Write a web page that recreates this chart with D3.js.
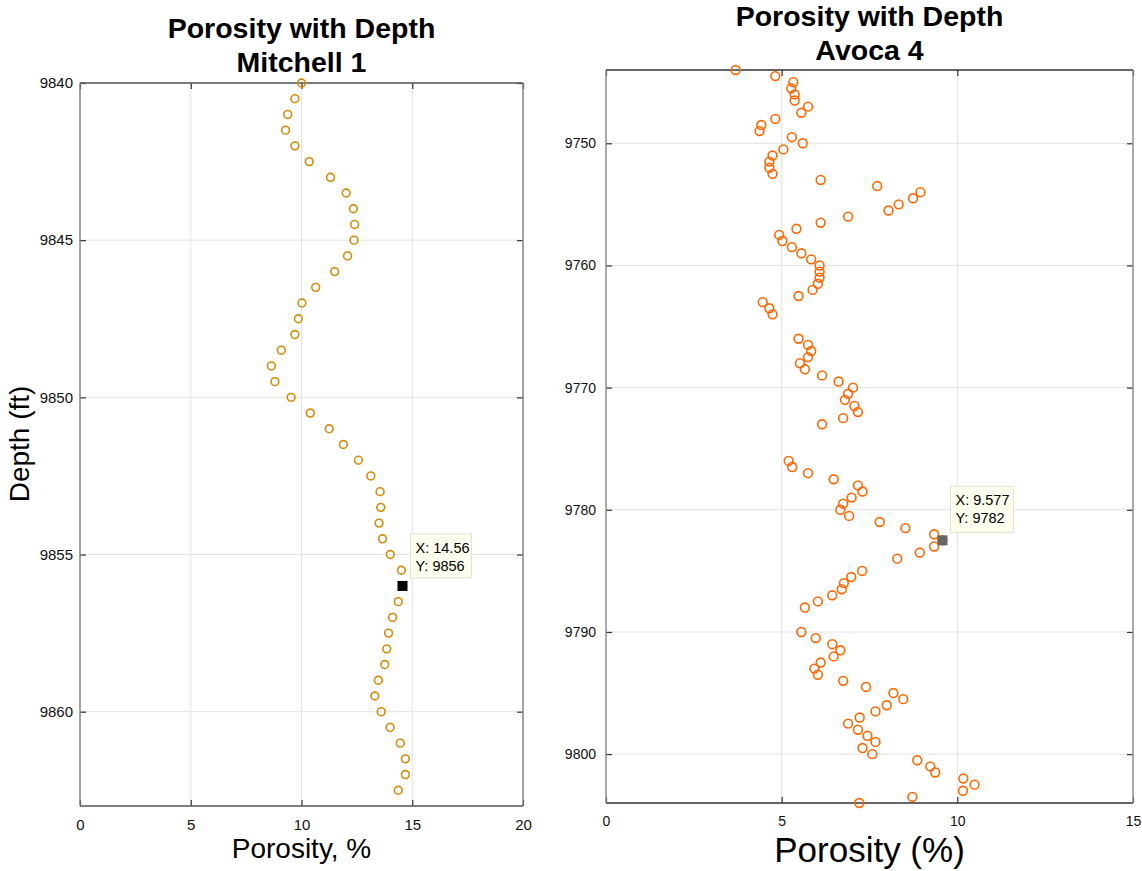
<!DOCTYPE html>
<html>
<head>
<meta charset="utf-8">
<script src="https://cdn.jsdelivr.net/npm/d3@7"></script>
<style>
  body { margin: 0; background: #fff; }
  text { font-family: "Liberation Sans", Arial, Helvetica, sans-serif; }
</style>
</head>
<body>
<div id="chart"></div>
<script>
// Mitchell 1 data
var mitchellDepth = [9840, 9840.5, 9841, 9841.5, 9842, 9842.5, 9843, 9843.5, 9844, 9844.5,
    9845, 9845.5, 9846, 9846.5, 9847, 9847.5, 9848, 9848.5, 9849, 9849.5,
    9850, 9850.5, 9851, 9851.5, 9852, 9852.5, 9853, 9853.5, 9854, 9854.5,
    9855, 9855.5, 9856, 9856.5, 9857, 9857.5, 9858, 9858.5, 9859, 9859.5,
    9860, 9860.5, 9861, 9861.5, 9862, 9862.5];
var mitchellPorosity = [10.0, 9.70, 9.38, 9.28, 9.70, 10.35, 11.31, 12.02, 12.34, 12.40,
    12.37, 12.08, 11.50, 10.64, 10.02, 9.86, 9.70, 9.09, 8.64, 8.80,
    9.53, 10.40, 11.25, 11.89, 12.57, 13.13, 13.55, 13.58, 13.50, 13.66,
    14.01, 14.51, 14.56, 14.37, 14.11, 13.93, 13.85, 13.76, 13.47, 13.31,
    13.60, 14.00, 14.46, 14.69, 14.69, 14.37];
var mitchellXTicks = [0, 5, 10, 15, 20];
var mitchellYTicks = [9840, 9845, 9850, 9855, 9860];

// Avoca 4 data
var avocaDepth = [9744, 9744.5, 9745, 9745.5, 9746, 9746.5, 9747, 9747.5, 9748, 9748.5,
    9749, 9749.5, 9750, 9750.5, 9751, 9751.5, 9752, 9752.5, 9753, 9753.5,
    9754, 9754.5, 9755, 9755.5, 9756, 9756.5, 9757, 9757.5, 9758, 9758.5,
    9759, 9759.5, 9760, 9760.5, 9761, 9761.5, 9762, 9762.5, 9763, 9763.5,
    9764, 9766, 9766.5, 9767, 9767.5, 9768, 9768.5, 9769, 9769.5, 9770,
    9770.5, 9771, 9771.5, 9772, 9772.5, 9773, 9776, 9776.5, 9777, 9777.5,
    9778, 9778.5, 9779, 9779.5, 9780, 9780.5, 9781, 9781.5, 9782, 9782.5,
    9783, 9783.5, 9784, 9785, 9785.5, 9786, 9786.5, 9787, 9787.5, 9788,
    9790, 9790.5, 9791, 9791.5, 9792, 9792.5, 9793, 9793.5, 9794, 9794.5,
    9795, 9795.5, 9796, 9796.5, 9797, 9797.5, 9798, 9798.5, 9799, 9799.5,
    9800, 9800.5, 9801, 9801.5, 9802, 9802.5, 9803, 9803.5, 9804];
var avocaPorosity = [3.69, 4.82, 5.33, 5.27, 5.37, 5.37, 5.75, 5.56, 4.82, 4.42,
    4.37, 5.29, 5.60, 5.05, 4.74, 4.65, 4.65, 4.74, 6.11, 7.72,
    8.95, 8.74, 8.33, 8.04, 6.89, 6.11, 5.42, 4.93, 5.02, 5.29,
    5.56, 5.84, 6.08, 6.08, 6.08, 6.03, 5.88, 5.48, 4.46, 4.65,
    4.74, 5.48, 5.75, 5.84, 5.75, 5.52, 5.66, 6.15, 6.62, 7.03,
    6.89, 6.80, 7.07, 7.17, 6.75, 6.15, 5.20, 5.30, 5.75, 6.48,
    7.17, 7.30, 6.99, 6.75, 6.67, 6.92, 7.79, 8.52, 9.34, 9.577,
    9.34, 8.93, 8.29, 7.29, 6.98, 6.77, 6.71, 6.44, 6.03, 5.66,
    5.56, 5.97, 6.44, 6.67, 6.48, 6.11, 5.93, 6.03, 6.75, 7.40,
    8.18, 8.46, 7.99, 7.67, 7.22, 6.89, 7.17, 7.44, 7.67, 7.30,
    7.58, 8.86, 9.23, 9.37, 10.17, 10.49, 10.16, 8.72, 7.21];
var avocaXTicks = [0, 5, 10, 15];
var avocaYTicks = [9750, 9760, 9770, 9780, 9790, 9800];

var svg = d3.select("#chart").append("svg")
    .attr("width", 1142)
    .attr("height", 871);

function drawPanel(p) {
    var x = d3.scaleLinear().domain(p.xDomain).range([p.left, p.right]);
    var y = d3.scaleLinear().domain(p.yDomain).range([p.top, p.bottom]);
    var g = svg.append("g");

    // grid
    g.selectAll(".vgrid").data(p.xTicks).enter().append("line")
        .attr("x1", function (d) { return x(d); })
        .attr("x2", function (d) { return x(d); })
        .attr("y1", p.top).attr("y2", p.bottom)
        .attr("stroke", "#e3e3e3").attr("stroke-width", 1);
    g.selectAll(".hgrid").data(p.yTicks).enter().append("line")
        .attr("x1", p.left).attr("x2", p.right)
        .attr("y1", function (d) { return y(d); })
        .attr("y2", function (d) { return y(d); })
        .attr("stroke", "#e3e3e3").attr("stroke-width", 1);

    // axes with inward ticks on all four sides
    var tl = p.tickLen;
    g.append("g").attr("transform", "translate(0," + p.bottom + ")")
        .call(d3.axisBottom(x).tickValues(p.xTicks).tickSize(-tl).tickPadding(tl + 7).tickFormat(d3.format("d")))
        .call(styleAxis, p.xFont);
    g.append("g").attr("transform", "translate(0," + p.top + ")")
        .call(d3.axisTop(x).tickValues(p.xTicks).tickSize(-tl).tickFormat(""))
        .call(styleAxis, p.xFont);
    g.append("g").attr("transform", "translate(" + p.left + ",0)")
        .call(d3.axisLeft(y).tickValues(p.yTicks).tickSize(-tl).tickPadding(tl + p.yPad).tickFormat(d3.format("d")))
        .call(styleAxis, p.yFont);
    g.append("g").attr("transform", "translate(" + p.right + ",0)")
        .call(d3.axisRight(y).tickValues(p.yTicks).tickSize(-tl).tickFormat(""))
        .call(styleAxis, p.yFont);

    g.selectAll(".domain").remove();
    g.append("line").attr("x1", p.left).attr("x2", p.right).attr("y1", p.top).attr("y2", p.top)
        .attr("stroke", p.hLine).attr("stroke-width", 1.4);
    g.append("line").attr("x1", p.left).attr("x2", p.right).attr("y1", p.bottom).attr("y2", p.bottom)
        .attr("stroke", p.hLine).attr("stroke-width", 1.4);
    g.append("line").attr("x1", p.left).attr("x2", p.left).attr("y1", p.top).attr("y2", p.bottom)
        .attr("stroke", p.vLine).attr("stroke-width", 1.4);
    g.append("line").attr("x1", p.right).attr("x2", p.right).attr("y1", p.top).attr("y2", p.bottom)
        .attr("stroke", p.vLine).attr("stroke-width", 1.4);

    // markers
    g.selectAll(".pt").data(p.depth).enter().append("circle")
        .attr("cx", function (d, i) { return x(p.porosity[i]); })
        .attr("cy", function (d) { return y(d); })
        .attr("r", p.r)
        .attr("fill", "none")
        .attr("stroke", p.color)
        .attr("stroke-width", 1.6);

    // data tip
    var tx = x(p.tip[0]), ty = y(p.tip[1]);
    g.append("rect")
        .attr("x", tx - 5).attr("y", ty - 5)
        .attr("width", 10).attr("height", 10)
        .attr("fill", p.tipColor);
    g.append("rect")
        .attr("x", tx + p.tipBox[0]).attr("y", ty + p.tipBox[1])
        .attr("width", p.tipBox[2]).attr("height", p.tipBox[3])
        .attr("fill", "#fffff0").attr("stroke", "#e4e2cc").attr("stroke-width", 1);
    g.append("text")
        .attr("x", tx + p.tipBox[0] + 5).attr("y", ty + p.tipBox[1] + 19)
        .attr("font-size", p.tipFont).attr("fill", "#000")
        .text("X: " + p.tipLabel[0]);
    g.append("text")
        .attr("x", tx + p.tipBox[0] + 5).attr("y", ty + p.tipBox[1] + 37)
        .attr("font-size", p.tipFont).attr("fill", "#000")
        .text("Y: " + p.tipLabel[1]);

    // titles
    var cx = (p.left + p.right) / 2;
    g.append("text").attr("x", cx).attr("y", p.titleY)
        .attr("text-anchor", "middle").attr("font-size", 28.5).attr("font-weight", "bold")
        .text("Porosity with Depth");
    g.append("text").attr("x", cx).attr("y", p.titleY + 34)
        .attr("text-anchor", "middle").attr("font-size", 28.5).attr("font-weight", "bold")
        .text(p.subtitle);
    g.append("text").attr("x", cx).attr("y", p.xLabelY)
        .attr("text-anchor", "middle").attr("font-size", p.xLabelSize)
        .text(p.xLabel);
}

function styleAxis(sel, size) {
    sel.selectAll(".tick line").attr("stroke", "#333").attr("stroke-width", 1.2);
    sel.selectAll(".tick text").attr("fill", "#111").attr("font-size", size)
        .style("font-family", "'Liberation Sans', Arial, Helvetica, sans-serif");
}

drawPanel({
    left: 80, right: 523, top: 83, bottom: 806,
    xDomain: [0, 20], yDomain: [9840, 9863],
    xTicks: mitchellXTicks, yTicks: mitchellYTicks,
    depth: mitchellDepth, porosity: mitchellPorosity,
    color: "#d68a0a", r: 3.9, tickLen: 6,
    xFont: 15, yFont: 15, yPad: 1,
    hLine: "#555", vLine: "#808080",
    tip: [14.56, 9856], tipLabel: ["14.56", "9856"], tipColor: "#000",
    tipBox: [8, -52, 61, 44], tipFont: 14.5,
    titleY: 38, subtitle: "Mitchell 1",
    xLabel: "Porosity, %", xLabelY: 858, xLabelSize: 28
});

drawPanel({
    left: 606, right: 1133, top: 70, bottom: 803,
    xDomain: [0, 15], yDomain: [9744, 9804],
    xTicks: avocaXTicks, yTicks: avocaYTicks,
    depth: avocaDepth, porosity: avocaPorosity,
    color: "#ff6600", r: 4.4, tickLen: 6,
    xFont: 14, yFont: 14, yPad: 4,
    hLine: "#333", vLine: "#8a8a8a",
    tip: [9.577, 9782.5], tipLabel: ["9.577", "9782"], tipColor: "#666",
    tipBox: [8, -54, 63, 46], tipFont: 14.5,
    titleY: 26, subtitle: "Avoca 4",
    xLabel: "Porosity (%)", xLabelY: 862, xLabelSize: 35
});

// y label for the left panel
svg.append("text")
    .attr("transform", "translate(29,444) rotate(-90)")
    .attr("text-anchor", "middle")
    .attr("font-size", 28)
    .text("Depth (ft)");
</script>
</body>
</html>
